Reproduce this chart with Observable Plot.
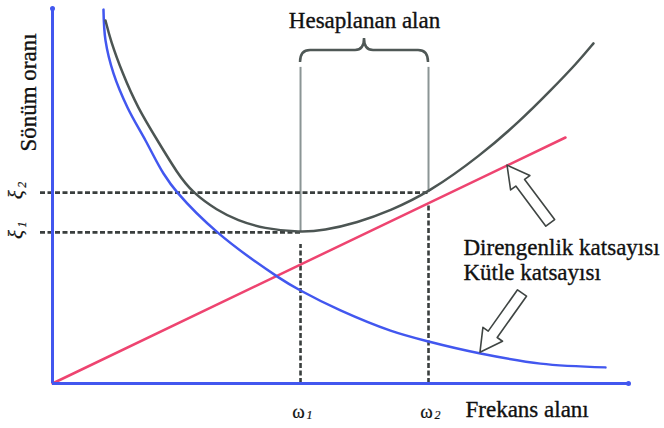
<!DOCTYPE html>
<html><head><meta charset="utf-8">
<script src="https://cdn.jsdelivr.net/npm/d3@7"></script>
<script src="https://cdn.jsdelivr.net/npm/@observablehq/plot@0.6"></script>
<style>body{margin:0;background:#fff} svg text{font-family:'Liberation Serif','Times New Roman',serif !important}</style>
</head><body><div id="chart"></div>
<script>
// Frequency (x) and damping ratio (y), arbitrary units
const massX = [8.85, 9.20, 10.59, 13.02, 16.15, 19.27, 21.70, 28.65, 39.24, 43.06, 50.0, 58.68, 65.28, 74.31, 84.72, 96.0];
const massY = [99.7, 91.5, 82.7, 73.6, 64.8, 56.0, 50.9, 40.3, 28.3, 24.8, 19.5, 14.1, 11.2, 8.0, 5.3, 4.3];
const totalX = [9.20, 10.07, 12.15, 14.76, 18.23, 21.70, 24.31, 28.65, 32.12, 36.63, 43.06, 47.05, 52.95, 58.68, 65.28, 74.31, 81.25, 86.46, 91.15, 93.92];
const totalY = [96.8, 91.5, 82.7, 73.6, 64.8, 56.0, 50.9, 46.1, 43.5, 41.3, 40.3, 40.8, 42.9, 46.1, 50.9, 60.8, 70.1, 78.1, 85.6, 90.7];
const stiffX = [0, 89.06];
const stiffY = [0, 65.6];
const omega = [43.06, 65.28];       // ω1, ω2
const xi = [40.3, 50.9];            // ξ1, ξ2
const subs = ["1", "2"];
const titleText = "Hesaplanan alan";
const yTitle = "Sönüm oranı";
const xTitle = "Frekans alanı";
const stiffLabel = "Direngenlik katsayısı";
const massLabel = "Kütle katsayısı";
// arrow pointers: tip on curve, tail near label
const arrowTips = [[79.0, 58.1], [74.3, 8.2]];
const arrowTails = [[86.5, 42.7], [81.6, 24.0]];
const bracketTop = 84.3;

const mass = massX.map((x, i) => ({x, y: massY[i]}));
const total = totalX.map((x, i) => ({x, y: totalY[i]}));
const stiff = stiffX.map((x, i) => ({x, y: stiffY[i]}));
const pts = omega.map((w, i) => ({w, xi: xi[i], s: subs[i]}));

const serif = "'Liberation Serif', 'Times New Roman', serif";
const blue = "#4257ef", red = "#ee4470", gray = "#4c5553", dash = "#3a3f3e";

function braceMark(index, scales) {
  const sx = scales.x, sy = scales.y;
  const x1 = sx(omega[0]), x2 = sx(omega[1]), xm = (x1 + x2) / 2;
  const yb = sy(bracketTop) - 5, yh = yb - 12, yp = yh - 12;
  const g = d3.create("svg:g");
  g.append("path")
    .attr("d", `M${x1},${yb} Q${x1},${yh} ${x1 + 10},${yh} L${xm - 9},${yh} Q${xm},${yh} ${xm},${yp} Q${xm},${yh} ${xm + 9},${yh} L${x2 - 10},${yh} Q${x2},${yh} ${x2},${yb}`)
    .attr("fill", "none").attr("stroke", "#4f5856").attr("stroke-width", 2.5);
  return g.node();
}

function arrowMark(index, scales) {
  const sx = scales.x, sy = scales.y;
  const g = d3.create("svg:g");
  arrowTips.forEach((t, i) => {
    const T = [sx(t[0]), sy(t[1])], B = [sx(arrowTails[i][0]), sy(arrowTails[i][1])];
    const L = Math.hypot(T[0] - B[0], T[1] - B[1]);
    const u = [(T[0] - B[0]) / L, (T[1] - B[1]) / L], n = [-u[1], u[0]];
    const h = 22, hw = 12, sw = 5.5;
    const H = [T[0] - u[0] * h, T[1] - u[1] * h];
    const p = [T,
      [H[0] + n[0] * hw, H[1] + n[1] * hw],
      [H[0] + n[0] * sw, H[1] + n[1] * sw],
      [B[0] + n[0] * sw, B[1] + n[1] * sw],
      [B[0] - n[0] * sw, B[1] - n[1] * sw],
      [H[0] - n[0] * sw, H[1] - n[1] * sw],
      [H[0] - n[0] * hw, H[1] - n[1] * hw]];
    g.append("polygon").attr("points", p.map(d => d.join(",")).join(" "))
      .attr("fill", "#fff").attr("stroke", "#3f4543").attr("stroke-width", 1.6)
      .attr("stroke-linejoin", "round");
  });
  return g.node();
}

const T = {fontFamily: serif, fill: "#111", stroke: "#111", strokeWidth: 0.35};

const chart = Plot.plot({
  width: 664, height: 428,
  marginLeft: 52, marginRight: 36, marginTop: 8, marginBottom: 45,
  x: {domain: [0, 100], axis: null},
  y: {domain: [0, 100], axis: null},
  style: {background: "#fff", fontFamily: serif},
  marks: [
    // solid guide lines above the markers
    Plot.ruleX(pts, {x: "w", y1: "xi", y2: bracketTop, stroke: "#8b9595", strokeWidth: 2}),
    // dashed marker lines
    Plot.ruleY(pts, {y: "xi", x1: 0, x2: "w", stroke: dash, strokeWidth: 2.6, strokeDasharray: "5,2.5", insetLeft: -12}),
    Plot.ruleX(pts, {x: "w", y1: 0, y2: "xi", stroke: dash, strokeWidth: 2.6, strokeDasharray: "5,2.5", insetBottom: -12}),
    // curves
    Plot.line(stiff, {x: "x", y: "y", stroke: red, strokeWidth: 2.5}),
    Plot.line(mass, {x: "x", y: "y", stroke: blue, strokeWidth: 2.5, curve: "catmull-rom"}),
    Plot.line(total, {x: "x", y: "y", stroke: gray, strokeWidth: 2.5, curve: "basis"}),
    // axes
    Plot.ruleX([0], {y1: 0, y2: 100, stroke: blue, strokeWidth: 3}),
    Plot.ruleY([0], {x1: 0, x2: 100, stroke: blue, strokeWidth: 3}),
    Plot.dot([[0, 100], [100, 0]], {x: d => d[0], y: d => d[1], r: 2.5, fill: blue, stroke: "none"}),
    braceMark,
    arrowMark,
    // texts
    Plot.text([titleText], {...T, x: (omega[0] + omega[1]) / 2, y: 96.8, text: d => d, fontSize: 23}),
    Plot.text([yTitle], {...T, x: 0, dx: -24, y: 77.6, text: d => d, rotate: -90, fontSize: 23}),
    Plot.text([xTitle], {...T, x: 71.7, y: 0, dy: 26, text: d => d, textAnchor: "start", fontSize: 23}),
    Plot.text([stiffLabel], {...T, x: 71.35, y: 36.3, text: d => d, textAnchor: "start", fontSize: 23}),
    Plot.text([massLabel], {...T, x: 71.35, y: 29.6, text: d => d, textAnchor: "start", fontSize: 23}),
    // ω labels
    Plot.text(pts, {...T, x: "w", y: 0, dy: 28, dx: -2, text: () => "ω", fontSize: 19, strokeWidth: 0.2}),
    Plot.text(pts, {...T, x: "w", y: 0, dy: 32, dx: 9, text: "s", fontSize: 12, fontStyle: "italic", strokeWidth: 0.2}),
    // ξ labels (rotated)
    Plot.text(pts, {...T, x: 0, dx: -36, y: "xi", dy: 2, text: () => "ξ", rotate: -90, fontSize: 21, fontStyle: "italic", strokeWidth: 0.2}),
    Plot.text(pts, {...T, x: 0, dx: -30, y: "xi", dy: -8, text: "s", rotate: -90, fontSize: 12, fontStyle: "italic", strokeWidth: 0.2})
  ]
});
d3.select(chart).selectAll("text").style("font-family", serif);
document.getElementById("chart").appendChild(chart);
</script>
</body></html>
